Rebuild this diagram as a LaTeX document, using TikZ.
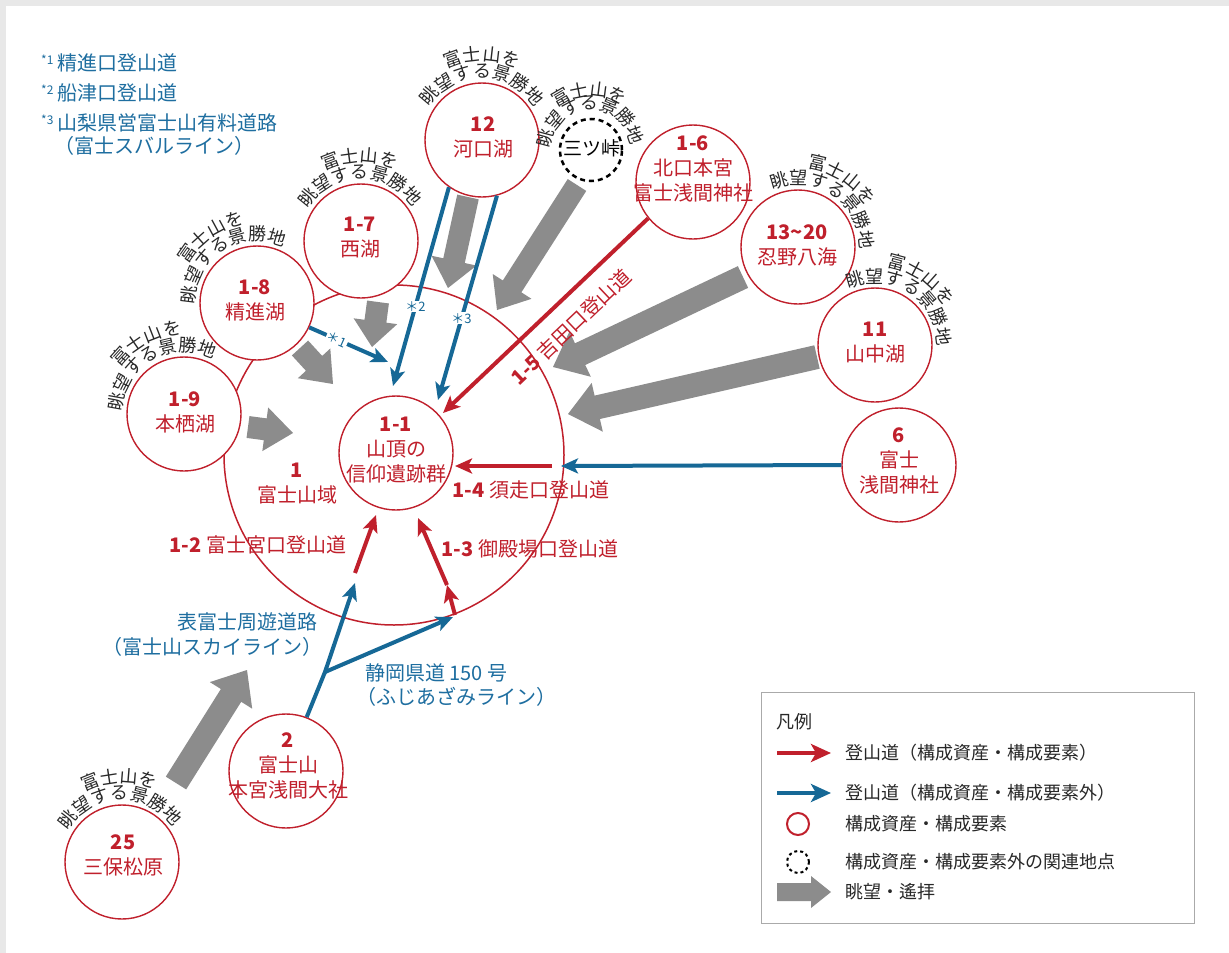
\documentclass[tikz,border=0pt]{standalone}
\usepackage{fontspec}
\setmainfont{Noto Sans CJK JP}
\usetikzlibrary{calc,arrows.meta}
\definecolor{jred}{RGB}{192,32,44}
\definecolor{jblue}{RGB}{22,104,150}
\definecolor{jnote}{RGB}{30,110,160}
\definecolor{jgray}{RGB}{140,140,140}
\definecolor{jtext}{RGB}{40,40,40}
\definecolor{bordergray}{RGB}{232,232,232}
\definecolor{legendgray}{RGB}{170,170,170}

\newcommand\arcline[4]{%
  \pgfmathsetmacro\arcstep{20/#2*57.2958}%
  \foreach \ch [count=\i] in {#4} {\xdef\arcn{\i}}%
  \foreach \ch [count=\i] in {#4} {%
    \pgfmathsetmacro\ang{#3+(\arcn-1)*\arcstep/2-(\i-1)*\arcstep}%
    \node[arcch,rotate=\ang-90] at ($(#1)+(\ang:#2)$) {\ch};}%
}
\newcommand\blockarrow[5]{%
  \coordinate (ba-base) at ($(#2)!#4pt!(#1)$);
  \fill[jgray] ($(#1)!#3pt!90:(#2)$) -- ($(ba-base)!#3pt!90:(#2)$) -- ($(ba-base)!#5pt!90:(#2)$) -- (#2) -- ($(ba-base)!#5pt!-90:(#2)$) -- ($(ba-base)!#3pt!-90:(#2)$) -- ($(#1)!#3pt!-90:(#2)$) -- cycle;}
\newcommand\notestar[1]{\raisebox{6pt}{\fontsize{12}{12}\selectfont *#1}\hspace{4pt}}

\begin{document}
\begin{tikzpicture}[x=1pt,y=1pt,
  site/.style={circle,draw=jred,line width=1.4pt,fill=white,minimum size=114pt,inner sep=0pt},
  sitetxt/.style={align=center,text=jred,font=\fontsize{20}{25}\selectfont,inner sep=0pt},
  arcch/.style={font=\fontsize{18}{18}\selectfont,text=jtext,inner sep=0pt},
  redarrow/.style={draw=jred,line width=4pt,-{Stealth[length=17pt,width=15pt,inset=4pt]}},
  bluearrow/.style={draw=jblue,line width=4pt,-{Stealth[length=17pt,width=15pt,inset=4pt]}},
  legtip/.style={-{Stealth[length=20pt,width=18pt,inset=5pt]}},
  roadlab/.style={text=jred,font=\fontsize{20}{25}\selectfont,inner sep=0pt},
  notelab/.style={text=jnote,font=\fontsize{20}{25}\selectfont,inner sep=0pt},
  starlab/.style={text=jblue,font=\fontsize{13}{13}\selectfont,fill=white,inner sep=1pt},
  legtxt/.style={text=jtext,font=\fontsize{18}{22}\selectfont,inner sep=0pt,anchor=west},
]
\useasboundingbox (0,0) rectangle (1229,-953);
\fill[white] (0,0) rectangle (1229,-953);
\fill[bordergray] (0,0) rectangle (1229,-6);
\fill[bordergray] (0,0) rectangle (6,-953);

% big area circle
\node[circle,draw=jred,line width=1.5pt,minimum size=340pt,inner sep=0pt] (n1) at (394,-455) {};

% gray view arrows
\coordinate (g1s) at (248,-427); \coordinate (g1t) at (293,-433);
\coordinate (g2s) at (300,-348); \coordinate (g2t) at (333,-384);
\coordinate (g3s) at (378,-302); \coordinate (g3t) at (372,-347);
\coordinate (g4s) at (468,-197); \coordinate (g4t) at (448,-288);
\coordinate (g5s) at (577,-185); \coordinate (g5t) at (497,-310);
\coordinate (g6s) at (743,-277); \coordinate (g6t) at (553,-367);
\coordinate (g7s) at (817,-357); \coordinate (g7t) at (568,-414);
\coordinate (g8s) at (176,-783); \coordinate (g8t) at (247,-670);
\blockarrow{g1s}{g1t}{11}{28}{22}
\blockarrow{g2s}{g2t}{11}{28}{22}
\blockarrow{g3s}{g3t}{11}{26}{22}
\blockarrow{g4s}{g4t}{11}{28}{23}
\blockarrow{g5s}{g5t}{11}{28}{23}
\blockarrow{g6s}{g6t}{12}{30}{25}
\blockarrow{g7s}{g7t}{12}{30}{25}
\blockarrow{g8s}{g8t}{12}{30}{25}

% site circles
\node[site] (n11) at (396,-453) {};
\node[site] (n19) at (184,-414) {};
\node[site] (n18) at (257,-303) {};
\node[site] (n17) at (361,-241) {};
\node[site] (n12) at (482,-140) {};
\node[circle,draw=black,dash pattern=on 5pt off 4pt,line width=2.5pt,minimum size=62pt,fill=white,inner sep=0pt] (n3) at (591,-150) {};
\node[site] (n16) at (693,-182) {};
\node[site] (n1320) at (798,-247) {};
\node[site] (n11y) at (875,-345) {};
\node[site] (n6) at (899,-465) {};
\node[site] (n2) at (286,-771) {};
\node[site] (n25) at (122,-862) {};

% site texts
\node[sitetxt] (t11) at (396,-450) {\textbf{1-1}\\山頂の\\信仰遺跡群};
\node[sitetxt] (t1) at (297,-484) {\textbf{1}\\富士山域};
\node[sitetxt] (t19) at (185,-412) {\textbf{1-9}\\本栖湖};
\node[sitetxt] (t18) at (255,-300) {\textbf{1-8}\\精進湖};
\node[sitetxt] (t17) at (360,-238) {\textbf{1-7}\\西湖};
\node[sitetxt] (t12) at (483,-137) {\textbf{12}\\河口湖};
\node[text=black,font=\fontsize{19}{19}\selectfont,inner sep=0pt] (t3) at (592,-148) {三ツ峠};
\node[sitetxt] (t16) at (693,-169) {\textbf{1-6}\\北口本宮\\富士浅間神社};
\node[sitetxt] (t1320) at (797,-245) {\textbf{13\char"7E 20}\\忍野八海};
\node[sitetxt] (t11y) at (875,-343) {\textbf{11}\\山中湖};
\node[sitetxt] (t6) at (899,-461) {\textbf{6}\\富士\\浅間神社};
\node[sitetxt] (t2) at (288,-766) {\textbf{2}\\富士山\\本宮浅間大社};
\node[sitetxt] (t25) at (123,-855) {\textbf{25}\\三保松原};

% arc labels
\arcline{n12}{69}{90}{眺,望,す,る,景,勝,地}
\arcline{n12}{86}{90}{富,士,山,を}
\arcline{n17}{69}{91}{眺,望,す,る,景,勝,地}
\arcline{n17}{86}{91}{富,士,山,を}
\arcline{n18}{69}{123}{眺,望,す,る,景,勝,地}
\arcline{n18}{86}{125}{富,士,山,を}
\arcline{n19}{69}{120}{眺,望,す,る,景,勝,地}
\arcline{n19}{86}{118}{富,士,山,を}
\arcline{n3}{47}{92}{眺,望,す,る,景,勝,地}
\arcline{n3}{61}{92}{富,士,山,を}
\arcline{n1320}{69}{56}{眺,望,す,る,景,勝,地}
\arcline{n1320}{86}{57}{富,士,山,を}
\arcline{n11y}{69}{57}{眺,望,す,る,景,勝,地}
\arcline{n11y}{86}{55}{富,士,山,を}
\arcline{n25}{69}{92}{眺,望,す,る,景,勝,地}
\arcline{n25}{86}{92}{富,士,山,を}

% blue routes
\coordinate (b1t) at (388,-362);
\coordinate (b2t) at (393,-386);
\coordinate (b3t) at (438,-400);
\coordinate (b4t) at (561,-466);
\coordinate (br) at (325,-672);
\coordinate (b5t) at (355,-583);
\coordinate (b6t) at (453,-617);
\draw[bluearrow] (n18.-25) -- node[starlab,sloped,pos=0.35] {＊1} (b1t);
\draw[bluearrow] (n12.235) -- node[starlab,pos=0.6] {＊2} (b2t);
\draw[bluearrow] (n12.285) -- node[starlab,pos=0.6] {＊3} (b3t);
\draw[bluearrow] (n6.west) -- (b4t);
\draw[bluearrow] (n2.69) -- (br) -- (b5t);
\draw[bluearrow] (br) -- (b6t);

% red routes
\coordinate (r1s) at (355,-573); \coordinate (r1t) at (376,-515);
\coordinate (r2s) at (455,-615); \coordinate (r2m) at (447,-585); \coordinate (r2t) at (418,-518);
\coordinate (r3s) at (552,-466); \coordinate (r3t) at (455,-466);
\coordinate (r4t) at (443,-413);
\draw[redarrow] (r1s) -- (r1t);
\draw[redarrow] (r2s) -- (r2m);
\draw[redarrow] (r2m) -- (r2t);
\draw[redarrow] (r3s) -- (r3t);
\draw[redarrow] (n16.219) -- (r4t);

% route labels
\node[roadlab] (l12) at (258,-545) {\textbf{1-2} 富士宮口登山道};
\node[roadlab] (l13) at (530,-549) {\textbf{1-3} 御殿場口登山道};
\node[roadlab] (l14) at (531,-490) {\textbf{1-4} 須走口登山道};
\node[roadlab,rotate=43.5] (l15) at (571,-327) {\textbf{1-5} 吉田口登山道};

\node[notelab,anchor=east] (s1a) at (318,-622) {表富士周遊道路};
\node[notelab,anchor=east] (s1b) at (323,-647) {（富士山スカイライン）};
\node[notelab,anchor=west] (s2a) at (365,-673) {静岡県道 150 号};
\node[notelab,anchor=west] (s2b) at (356,-697) {（ふじあざみライン）};

% notes
\node[notelab,anchor=west] (nt1) at (41,-63) {\notestar{1}精進口登山道};
\node[notelab,anchor=west] (nt2) at (41,-93) {\notestar{2}船津口登山道};
\node[notelab,anchor=west] (nt3) at (41,-123) {\notestar{3}山梨県営富士山有料道路};
\node[notelab,anchor=west] (nt4) at (54,-146) {（富士スバルライン）};

% legend
\node[draw=legendgray,line width=1.2pt,minimum width=433pt,minimum height=231pt,anchor=north west,inner sep=0pt] (legend) at (761,-692) {};
\node[legtxt] (lt0) at (776,-722) {凡例};
\coordinate (la1) at (777,-753); \coordinate (la2) at (831,-753);
\coordinate (lb1) at (777,-793); \coordinate (lb2) at (831,-793);
\draw[redarrow,legtip] (la1) -- (la2);
\draw[bluearrow,legtip] (lb1) -- (lb2);
\node[circle,draw=jred,line width=2pt,minimum size=22pt,inner sep=0pt] (lc) at (798,-824) {};
\node[circle,draw=black,dash pattern=on 3pt off 3pt,line width=2pt,minimum size=22pt,inner sep=0pt] (ld) at (798,-862) {};
\coordinate (lg1) at (777,-892); \coordinate (lg2) at (831,-892);
\blockarrow{lg1}{lg2}{9}{20}{16}
\node[legtxt] (lt1) at (845,-753) {登山道（構成資産・構成要素）};
\node[legtxt] (lt2) at (845,-793) {登山道（構成資産・構成要素外）};
\node[legtxt] (lt3) at (845,-824) {構成資産・構成要素};
\node[legtxt] (lt4) at (845,-862) {構成資産・構成要素外の関連地点};
\node[legtxt] (lt5) at (845,-892) {眺望・遙拝};
\end{tikzpicture}
\end{document}
